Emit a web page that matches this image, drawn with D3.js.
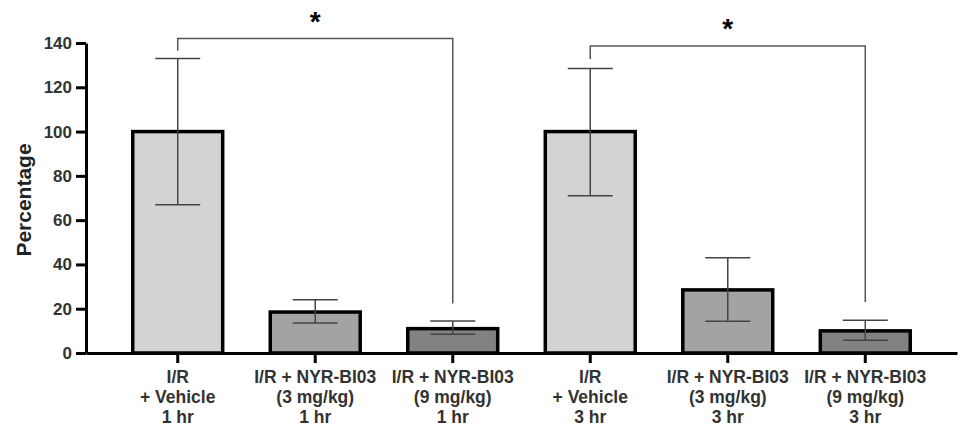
<!DOCTYPE html>
<html>
<head>
<meta charset="utf-8">
<script src="https://cdn.jsdelivr.net/npm/d3@7"></script>
<style>
  body { margin: 0; background: #fff; }
  text { font-family: "Liberation Sans", Arial, sans-serif; }
</style>
</head>
<body>
<div id="chart"></div>
<script>
// Data
const groups = ["v1", "low1", "high1", "v3", "low3", "high3"];
const labels = [
	["I/R", "+ Vehicle", "1 hr"],
	["I/R + NYR-BI03", "(3 mg/kg)", "1 hr"],
	["I/R + NYR-BI03", "(9 mg/kg)", "1 hr"],
	["I/R", "+ Vehicle", "3 hr"],
	["I/R + NYR-BI03", "(3 mg/kg)", "3 hr"],
	["I/R + NYR-BI03", "(9 mg/kg)", "3 hr"]
];
const means = [100, 18.5, 11, 100, 28.5, 10];
const errLow = [67, 13.5, 8.5, 71, 14.3, 5.8];
const errHigh = [133, 24, 14.5, 128.5, 43, 14.8];
const yTicks = [0, 20, 40, 60, 80, 100, 120, 140];
const fills = ["#d3d3d3", "#a3a3a6", "#828282", "#d3d3d3", "#a3a3a6", "#828282"];

// significance brackets: from group, to group, top, left leg end, right leg end
const brackets = [
	{from: 0, to: 2, top: 142, leftEnd: 136.5, rightEnd: 22.3},
	{from: 3, to: 5, top: 138.7, leftEnd: 132.8, rightEnd: 23}
];

const width = 961, height = 426;
const margin = {top: 43, right: 4, bottom: 73, left: 86};

const svg = d3.select("#chart").append("svg")
	.attr("width", width)
	.attr("height", height);

const x = d3.scaleBand()
	.domain(groups)
	.range([margin.left, width - margin.right])
	.paddingInner(0.346)
	.paddingOuter(0.34);

const y = d3.scaleLinear()
	.domain([0, 140])
	.range([height - margin.bottom, margin.top]);

// bars
svg.selectAll(".bar")
	.data(groups)
	.join("rect")
	.attr("class", "bar")
	.attr("x", d => x(d))
	.attr("y", (d, i) => y(means[i]))
	.attr("width", x.bandwidth())
	.attr("height", (d, i) => y(0) - y(means[i]))
	.attr("fill", (d, i) => fills[i])
	.attr("stroke", "#000")
	.attr("stroke-width", 3.5);

// error bars
const cap = x.bandwidth() / 4;
const eb = svg.append("g")
	.attr("stroke", "#444")
	.attr("stroke-width", 1.5);
groups.forEach((g, i) => {
	const cx = x(g) + x.bandwidth() / 2;
	eb.append("line").attr("x1", cx).attr("x2", cx)
		.attr("y1", y(errLow[i])).attr("y2", y(errHigh[i]));
	eb.append("line").attr("x1", cx - cap).attr("x2", cx + cap)
		.attr("y1", y(errHigh[i])).attr("y2", y(errHigh[i]));
	eb.append("line").attr("x1", cx - cap).attr("x2", cx + cap)
		.attr("y1", y(errLow[i])).attr("y2", y(errLow[i]));
});

// Y axis
const yAxis = svg.append("g")
	.attr("transform", `translate(${margin.left},0)`)
	.call(d3.axisLeft(y).tickValues(yTicks).tickSize(10).tickSizeOuter(0).tickPadding(4));
yAxis.select(".domain").attr("stroke", "#000").attr("stroke-width", 3);
yAxis.selectAll(".tick line").attr("stroke", "#000").attr("stroke-width", 3);
yAxis.selectAll(".tick text")
	.attr("fill", "#333")
	.style("font-size", "17px")
	.style("font-weight", "bold");

// X axis
const xAxis = svg.append("g")
	.attr("transform", `translate(0,${y(0)})`)
	.call(d3.axisBottom(x).tickSize(10).tickSizeOuter(0).tickFormat(""));
xAxis.select(".domain").attr("stroke", "#000").attr("stroke-width", 3);
xAxis.selectAll(".tick line").attr("stroke", "#000").attr("stroke-width", 3);
xAxis.selectAll(".tick text").remove();
xAxis.selectAll(".tick").each(function(d, i) {
	const t = d3.select(this).append("text")
		.attr("fill", "#333")
		.attr("text-anchor", "middle")
		.style("font-size", "17.5px")
		.style("font-weight", "bold");
	labels[i].forEach((line, k) => {
		t.append("tspan").attr("x", 0).attr("y", 30 + k * 20).text(line);
	});
});

// Y axis title
svg.append("text")
	.attr("transform", `translate(31,${(y(0) + y(140)) / 2 + 2}) rotate(-90)`)
	.attr("text-anchor", "middle")
	.attr("fill", "#222")
	.style("font-size", "21px")
	.style("font-weight", "bold")
	.text("Percentage");

// significance brackets
brackets.forEach(b => {
	const x1 = x(groups[b.from]) + x.bandwidth() / 2;
	const x2 = x(groups[b.to]) + x.bandwidth() / 2;
	svg.append("path")
		.attr("d", `M${x1},${y(b.leftEnd)}V${y(b.top)}H${x2}V${y(b.rightEnd)}`)
		.attr("fill", "none")
		.attr("stroke", "#555")
		.attr("stroke-width", 1.5);
	svg.append("text")
		.attr("x", (x1 + x2) / 2)
		.attr("y", y(b.top) - 8)
		.attr("text-anchor", "middle")
		.style("font-size", "28px")
		.style("font-weight", "bold")
		.attr("fill", "#000")
		.text("*");
});
</script>
</body>
</html>
